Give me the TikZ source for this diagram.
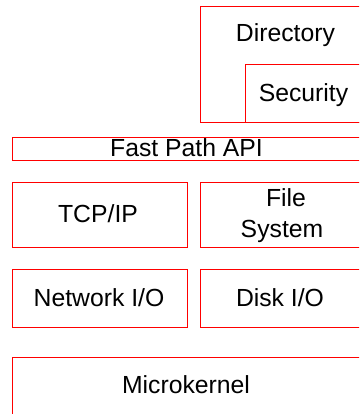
\documentclass[tikz,border=0pt]{standalone}
\usepackage{fontspec}
\setmainfont{Liberation Sans}
\begin{document}
\begin{tikzpicture}[x=1pt,y=-1pt,
  layer/.style={draw=red,line width=1pt},
  lbl/.style={anchor=base,inner sep=0pt,font=\fontsize{24.75}{28}\selectfont}]
\useasboundingbox (0,0) rectangle (359,414);
\clip (0,0) rectangle (359,414);
% layer boxes (right side runs past the edge)
\draw[layer] (200,7) rectangle (375,123);
\draw[layer] (245,65) rectangle (375,123);
\draw[layer] (12,138) rectangle (375,160);
\draw[layer] (12,182) rectangle (187,247);
\draw[layer] (200,182) rectangle (375,247);
\draw[layer] (12,269) rectangle (187,327);
\draw[layer] (200,269) rectangle (375,327);
\draw[layer] (12,357) rectangle (375,430);
% labels
\node[lbl] (dir) at (285.5,41.7) {Directory};
\node[lbl] (sec) at (303.5,101.7) {Security};
\node[lbl] (api) at (186.5,157) {Fast Path API};
\node[lbl] (tcp) at (98,222) {TCP/IP};
\node[lbl] (fs1) at (286,206.7) {File};
\node[lbl] (fs2) at (282,237.7) {System};
\node[lbl] (net) at (99,306.7) {Network I/O};
\node[lbl] (disk) at (280,306.7) {Disk I/O};
\node[lbl] (mk) at (186,393) {Microkernel};
\end{tikzpicture}
\end{document}
